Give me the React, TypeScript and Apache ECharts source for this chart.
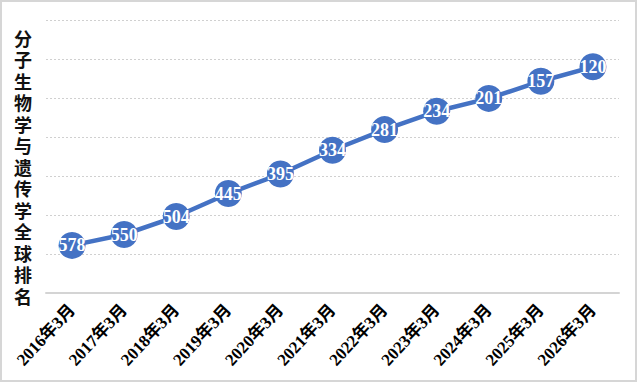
import React, { useEffect, useRef } from "react";
import * as echarts from "echarts";

const categories = ["2016年3月", "2017年3月", "2018年3月", "2019年3月", "2020年3月", "2021年3月", "2022年3月", "2023年3月", "2024年3月", "2025年3月", "2026年3月"];
const ranks = [578, 550, 504, 445, 395, 334, 281, 234, 201, 157, 120];
const yTitle = "分子生物学与遗传学全球排名";

export default function App() {
  const ref = useRef<HTMLDivElement>(null);
  useEffect(() => {
    const chart = echarts.init(ref.current!, undefined, { renderer: "svg" });
    chart.setOption({
      animation: false,
      backgroundColor: "#ffffff",
      grid: { left: 46, right: 21, top: 20, bottom: 90 },
      graphic: [
        {
          type: "rect",
          shape: { x: 1, y: 1, width: 635, height: 380 },
          style: { fill: "none", stroke: "#d6d6d6", lineWidth: 2 },
          silent: true,
        },
        {
          type: "text",
          left: 14,
          top: 29,
          style: {
            text: yTitle.split("").join("\n"),
            font: "600 18px 'Liberation Serif', 'Noto Sans CJK SC'",
            fill: "#111",
            lineHeight: 21.5,
            align: "center",
          },
        },
      ],
      xAxis: {
        type: "category",
        data: categories,
        boundaryGap: true,
        axisLine: { onZero: false, lineStyle: { color: "#d4d4d4", width: 2 } },
        axisTick: { show: false },
        axisLabel: {
          rotate: 47,
          margin: 14,
          interval: 0,
          color: "#000",
          fontSize: 17,
          fontWeight: "bold",
          fontFamily: "'Liberation Serif', 'Noto Sans CJK SC'",
        },
      },
      yAxis: {
        type: "value",
        inverse: true,
        min: 0,
        max: 700,
        interval: 100,
        axisLabel: { show: false },
        axisLine: { show: false },
        axisTick: { show: false },
        splitLine: { lineStyle: { color: "#d0d0d0", type: [2, 2], width: 1.2 } },
      },
      series: [
        {
          type: "line",
          data: ranks,
          symbol: "circle",
          symbolSize: 27,
          lineStyle: { color: "#4472C4", width: 4.5 },
          itemStyle: { color: "#4472C4" },
          label: {
            show: true,
            position: "inside",
            color: "#ffffff",
            fontSize: 18,
            fontWeight: "bold",
            fontFamily: "'Liberation Serif', serif",
          },
        },
      ],
    });
    return () => chart.dispose();
  }, []);
  return <div ref={ref} style={{ position: "absolute", left: 0, top: 0, width: 640, height: 383 }} />;
}
